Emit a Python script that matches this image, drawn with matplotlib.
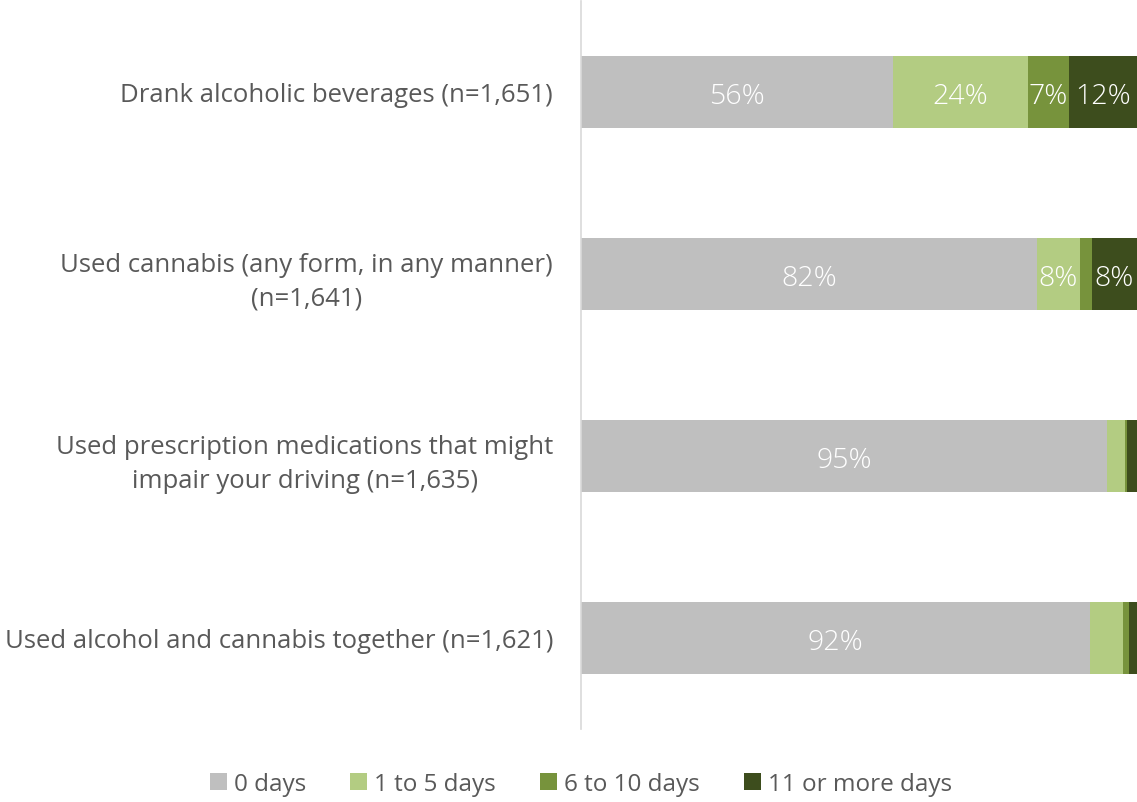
import matplotlib
matplotlib.use("Agg")
import matplotlib.pyplot as plt
import numpy as np

plt.rcParams["font.family"] = ["Open Sans", "DejaVu Sans"]

categories = [
    "Drank alcoholic beverages (n=1,651)",
    "Used cannabis (any form, in any manner)\n(n=1,641)",
    "Used prescription medications that might\nimpair your driving (n=1,635)",
    "Used alcohol and cannabis together (n=1,621)",
]
series_names = ["0 days", "1 to 5 days", "6 to 10 days", "11 or more days"]
zero_days = [56.1, 82.0, 94.6, 91.5]
one_to_five = [24.3, 7.7, 3.2, 5.9]
six_to_ten = [7.4, 2.2, 0.4, 1.1]
eleven_plus = [12.2, 8.1, 1.8, 1.5]
colors = ["#BFBFBF", "#B3CC82", "#77933C", "#3D4D1D"]

series = [zero_days, one_to_five, six_to_ten, eleven_plus]

fig = plt.figure(figsize=(11.37, 8.03), dpi=100)
ax = fig.add_axes([0.511, 0.091, 0.489, 0.9065])

y = np.arange(len(categories))
left = np.zeros(len(categories))
for name, vals, col in zip(series_names, series, colors):
    vals = np.array(vals, dtype=float)
    bars = ax.barh(y, vals, left=left, height=0.4, color=col, label=name)
    for b, v in zip(bars, vals):
        if v >= 7:
            ax.text(b.get_x() + b.get_width() / 2, b.get_y() + b.get_height() / 2 + 0.02,
                    f"{v:.0f}%", ha="center", va="center", color="white",
                    fontsize=20.5, fontweight="light")
    left += vals

ax.set_xlim(0, left.max())
ax.set_ylim(len(categories) - 0.5, -0.5)
ax.set_yticks(y)
ax.set_yticklabels(categories, fontsize=18.5, color="#595959", linespacing=1.45)
for lbl in ax.get_yticklabels():
    lbl.set_multialignment("center")
ax.tick_params(axis="y", length=0, pad=20)
ax.set_xticks([])
for side in ["top", "right", "bottom"]:
    ax.spines[side].set_visible(False)
ax.spines["left"].set_color("#D9D9D9")
ax.spines["left"].set_linewidth(1.2)

handles, labels = ax.get_legend_handles_labels()
fig.legend(handles, labels, loc="center", bbox_to_anchor=(0.511, 0.022), ncol=4,
           frameon=False, fontsize=17.5, labelcolor="#595959",
           handlelength=0.7, handleheight=0.7, handletextpad=0.3, columnspacing=1.8)

fig.savefig("out.png", dpi=100)
